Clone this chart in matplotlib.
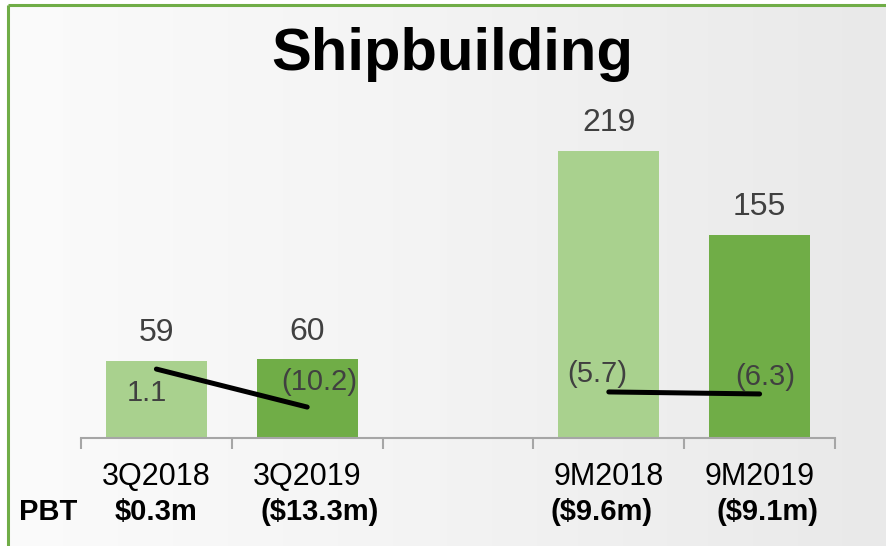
import numpy as np
import matplotlib
matplotlib.use("Agg")
import matplotlib.pyplot as plt
from matplotlib.lines import Line2D
from matplotlib.transforms import blended_transform_factory

# ==========================================================
# Data
# ==========================================================

categories = ["3Q2018", "3Q2019", "", "9M2018", "9M2019"]
revenue = [59, 60, np.nan, 219, 155]
pbt_margin = [1.1, -10.2, np.nan, -5.7, -6.3]
pbt_labels = ["$0.3m", "($13.3m)", "", "($9.6m)", "($9.1m)"]

light_green = "#A9D18E"
green = "#70AD47"
bar_colors = [light_green, green, light_green, light_green, green]
text_gray = "#404040"

plt.rcParams["font.family"] = ["Liberation Sans", "DejaVu Sans"]

# ==========================================================
# Figure + framed background
# ==========================================================

fig = plt.figure(figsize=(8.87, 5.46), dpi=100)
fig.patch.set_facecolor("white")

bg = fig.add_axes([8 / 887, 0, 1 - 8 / 887, 1 - 4 / 546])
grad = np.linspace(0, 1, 256).reshape(1, -1)
bg.imshow(grad, aspect="auto", cmap=matplotlib.colors.LinearSegmentedColormap.from_list(
    "bg", ["#FBFBFB", "#F3F3F3", "#E9E9E9"]), extent=[0, 1, 0, 1])
bg.set_xlim(0, 1)
bg.set_ylim(0, 1)
bg.axis("off")

# green frame (top + left)
fig.add_artist(Line2D([8 / 887, 1], [1 - 4.5 / 546] * 2, color=green, lw=2.2,
                      transform=fig.transFigure, solid_capstyle="butt"))
fig.add_artist(Line2D([8.5 / 887] * 2, [0, 1 - 4.5 / 546], color=green, lw=2.2,
                      transform=fig.transFigure, solid_capstyle="butt"))

# ==========================================================
# Bars
# ==========================================================

x = np.arange(len(categories))

ax = fig.add_axes([81 / 887, (546 - 438) / 546, (835 - 81) / 887, 0.5998])
ax.patch.set_alpha(0)

ax.bar(x, revenue, width=0.67, color=bar_colors, zorder=2)

for xi, v in zip(x, revenue):
    if np.isnan(v):
        continue
    ax.annotate(f"{v:.0f}", (xi, v), xytext=(0, 20), textcoords="offset points",
                ha="center", va="center", fontsize=23, color=text_gray)

ax.set_xlim(-0.5, len(categories) - 0.5)
ax.set_ylim(0, 250)

for s in ["top", "right", "left"]:
    ax.spines[s].set_visible(False)
ax.spines["bottom"].set_color("#A6A6A6")
ax.spines["bottom"].set_linewidth(1.5)

ax.set_yticks([])
ax.set_xticks(x)
ax.set_xticklabels(categories, fontsize=22, color="black")
ax.tick_params(axis="x", which="major", length=0, pad=17)
ax.set_xticks(np.arange(-0.5, len(categories)), minor=True)
ax.tick_params(axis="x", which="minor", length=8, width=1.5, color="#A6A6A6")

# ==========================================================
# PBT margin line (secondary axis)
# ==========================================================

ax2 = ax.twinx()
ax2.set_ylim(-19.4, 78.0)
ax2.axis("off")

ax2.plot(x, pbt_margin, color="black", lw=3.6, solid_capstyle="round", zorder=3)

label_offsets = [(-7, -17), (9, 18), (0, 0), (-8, 13), (4, 12)]
for xi, v, off in zip(x, pbt_margin, label_offsets):
    if np.isnan(v):
        continue
    txt = f"{v:.1f}" if v >= 0 else f"({abs(v):.1f})"
    ax2.annotate(txt, (xi, v), xytext=off, textcoords="offset points",
                 ha="center", va="center", fontsize=21, color=text_gray)

# ==========================================================
# Title + PBT row
# ==========================================================

fig.text(0.51, 0.9, "Shipbuilding", ha="center", va="center",
         fontsize=43, fontweight="bold", color="black")

pbt_y = (546 - 512) / 546
fig.text(48 / 887, pbt_y, "PBT", ha="center", va="center",
         fontsize=21, fontweight="bold")

pbt_shift = [0.0, 0.08, 0.0, -0.05, 0.05]
row = blended_transform_factory(ax.transData, fig.transFigure)
for xi, lab, dx in zip(x, pbt_labels, pbt_shift):
    if not lab:
        continue
    ax.text(xi + dx, pbt_y, lab, transform=row,
            ha="center", va="center", fontsize=21, fontweight="bold")

plt.savefig("out.png", dpi=100)
plt.close()
